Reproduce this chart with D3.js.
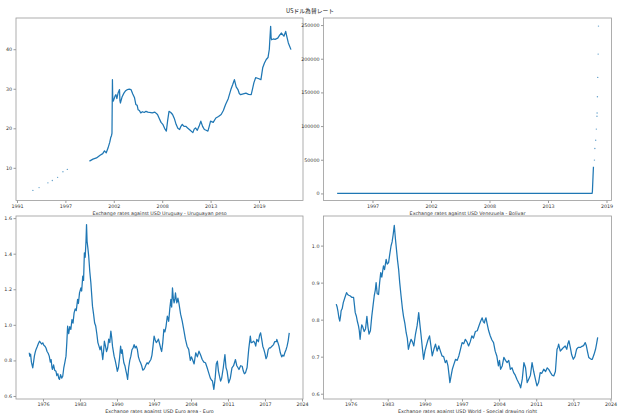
<!DOCTYPE html>
<html>
<head>
<meta charset="utf-8">
<script src="https://cdn.jsdelivr.net/npm/d3@7"></script>
<style>
  body { margin: 0; background: #fff; }
  text { font-family: "DejaVu Sans", sans-serif; }
</style>
</head>
<body>
<div id="chart"></div>
<script>
const width = 620;
const height = 413;

// Values (x = decimal year)
const uruguayDotYears = [1993.7, 1994.4, 1995.4, 1995.9, 1996.5, 1997.1, 1997.6];
const uruguayDotValues = [4.3, 5.0, 6.2, 6.8, 7.6, 9.0, 9.6];
const uruguayYears = [2000.1, 2000.5, 2000.9, 2001.3, 2001.6, 2001.8, 2002.0, 2002.2, 2002.4, 2002.5, 2002.6, 2002.65,
  2002.7, 2002.73, 2002.8, 2002.9, 2003.0, 2003.1, 2003.2, 2003.35, 2003.5, 2003.55, 2003.6, 2003.8, 2004.0, 2004.2,
  2004.4, 2004.6, 2004.8, 2005.0, 2005.2, 2005.35, 2005.5, 2005.6, 2005.75, 2005.9, 2006.1, 2006.3, 2006.5, 2006.7,
  2006.9, 2007.2, 2007.5, 2007.8, 2008.0, 2008.2, 2008.4, 2008.6, 2008.8, 2008.95, 2009.1, 2009.3, 2009.5, 2009.7,
  2009.9, 2010.1, 2010.3, 2010.45, 2010.6, 2010.8, 2011.0, 2011.2, 2011.5, 2011.8, 2011.95, 2012.1, 2012.3, 2012.5,
  2012.7, 2012.9, 2013.1, 2013.3, 2013.5, 2013.65, 2013.8, 2014.1, 2014.4, 2014.7, 2015.0, 2015.25, 2015.5, 2015.8,
  2016.1, 2016.3, 2016.5, 2016.7, 2016.9, 2017.05, 2017.2, 2017.5, 2017.8, 2018.1, 2018.4, 2018.55, 2018.7, 2018.9,
  2019.2, 2019.5, 2019.7, 2019.9, 2020.1, 2020.3, 2020.45, 2020.5, 2020.6, 2020.65, 2020.7, 2020.9, 2021.1, 2021.4,
  2021.6, 2021.8, 2022.1, 2022.3, 2022.45, 2022.6, 2022.9];
const uruguayValues = [11.7, 12.2, 12.5, 13.2, 13.6, 14.3, 13.8, 15.0, 16.5, 17.6, 18.2, 18.8,
  32.3, 28.0, 26.9, 27.5, 28.2, 28.5, 27.5, 29.0, 29.8, 27.0, 26.4, 28.0, 28.9, 29.5,
  29.8, 29.9, 29.8, 28.7, 27.7, 26.0, 25.8, 24.7, 24.5, 23.9, 24.2, 24.0, 24.3, 24.1,
  24.0, 23.9, 24.1, 23.5, 22.5, 21.5, 21.0, 20.0, 19.3, 22.0, 24.3, 24.0, 23.5, 22.5,
  21.0, 20.0, 19.7, 20.5, 21.0, 20.5, 20.5, 20.1, 19.5, 18.9, 19.8, 20.1, 19.5, 20.5,
  21.8, 20.5, 19.7, 19.5, 19.3, 20.5, 21.8, 21.5, 22.6, 23.0, 23.5, 24.5, 26.0, 27.5,
  29.8, 31.0, 32.3, 30.5, 29.8, 28.8, 28.5, 28.7, 28.9, 28.6, 28.5, 30.0, 31.5, 32.8,
  32.6, 32.3, 35.3, 36.5, 37.4, 37.9, 40.0, 42.0, 45.8, 43.0, 42.4, 42.6, 42.5, 42.8,
  43.5, 44.1, 43.3, 44.5, 43.0, 41.6, 39.9];

const venezuelaYears = [1994.07, 1996, 1998, 2000, 2002, 2004, 2006, 2008, 2010, 2012, 2014, 2016, 2017.5,
  2017.93, 2017.96, 2018.02, 2018.06];
const venezuelaValues = [0.15, 0.48, 0.55, 0.68, 1.16, 1.92, 2.15, 2.15, 4.3, 4.3, 6.3, 10, 10,
  10, 2500, 25000, 39500];
const venezuelaDotYears = [2018.15, 2018.19, 2018.27, 2018.33, 2018.39, 2018.4, 2018.43, 2018.46, 2018.5, 2018.53];
const venezuelaDotValues = [49500, 66800, 79000, 95500, 114500, 119500, 143500, 172300, 206900, 248500];

const euroYears = [1974.3, 1974.4, 1974.55, 1974.7, 1974.95, 1975.1, 1975.25, 1975.4, 1975.56, 1975.75, 1976.0, 1976.2,
  1976.4, 1976.6, 1976.8, 1977.0, 1977.2, 1977.4, 1977.6, 1977.8, 1978.0, 1978.2, 1978.35, 1978.5, 1978.6, 1978.8,
  1979.0, 1979.25, 1979.4, 1979.6, 1979.75, 1979.9, 1980.1, 1980.3, 1980.5, 1980.7, 1980.9, 1981.1, 1981.25, 1981.4,
  1981.6, 1981.8, 1982.0, 1982.2, 1982.4, 1982.6, 1982.8, 1983.0, 1983.25, 1983.4, 1983.6, 1983.86, 1984.0, 1984.2,
  1984.35, 1984.5, 1984.65, 1984.8, 1984.9, 1985.0, 1985.15, 1985.3, 1985.5, 1985.7, 1985.85, 1986.0, 1986.2, 1986.4,
  1986.6, 1986.8, 1987.0, 1987.2, 1987.4, 1987.6, 1987.9, 1988.05, 1988.2, 1988.4, 1988.6, 1988.8, 1989.0, 1989.2,
  1989.4, 1989.55, 1989.7, 1990.0, 1990.2, 1990.4, 1990.6, 1990.8, 1991.0, 1991.2, 1991.35, 1991.5, 1991.65, 1991.8,
  1992.0, 1992.2, 1992.35, 1992.5, 1992.7, 1992.9, 1993.1, 1993.3, 1993.5, 1993.7, 1993.9, 1994.1, 1994.3, 1994.5,
  1994.7, 1994.9, 1995.1, 1995.3, 1995.5, 1995.7, 1995.9, 1996.1, 1996.3, 1996.5, 1996.8, 1997.0, 1997.2, 1997.4,
  1997.6, 1997.8, 1998.0, 1998.2, 1998.4, 1998.6, 1998.8, 1999.0, 1999.2, 1999.4, 1999.6, 1999.85, 2000.1, 2000.3,
  2000.5, 2000.65, 2000.8, 2000.95, 2001.1, 2001.25, 2001.35, 2001.5, 2001.6, 2001.8, 2002.0, 2002.3, 2002.6, 2002.9,
  2003.2, 2003.5, 2003.8, 2004.1, 2004.3, 2004.5, 2004.8, 2005.1, 2005.4, 2005.7, 2006.0, 2006.3, 2006.6, 2006.9,
  2007.2, 2007.5, 2007.8, 2008.0, 2008.2, 2008.45, 2008.7, 2008.9, 2009.1, 2009.3, 2009.5, 2009.7, 2009.9, 2010.2,
  2010.5, 2010.7, 2010.9, 2011.2, 2011.5, 2011.8, 2012.1, 2012.45, 2012.7, 2012.9, 2013.1, 2013.4, 2013.7, 2013.9,
  2014.1, 2014.3, 2014.6, 2014.9, 2015.05, 2015.2, 2015.35, 2015.5, 2015.8, 2016.0, 2016.2, 2016.4, 2016.7, 2016.9,
  2017.1, 2017.3, 2017.5, 2017.7, 2017.9, 2018.1, 2018.3, 2018.5, 2018.7, 2018.9, 2019.2, 2019.5, 2019.7, 2020.0,
  2020.1, 2020.3, 2020.5, 2020.75, 2021.0, 2021.2, 2021.4, 2021.6, 2021.8, 2022.0, 2022.2, 2022.4];
const euroValues = [0.843, 0.824, 0.835, 0.790, 0.758, 0.790, 0.824, 0.845, 0.862, 0.875, 0.895, 0.908,
  0.900, 0.892, 0.899, 0.885, 0.880, 0.870, 0.850, 0.840, 0.824, 0.790, 0.805, 0.760, 0.749, 0.775,
  0.745, 0.739, 0.715, 0.725, 0.700, 0.693, 0.720, 0.700, 0.711, 0.760, 0.790, 0.824, 0.900, 0.993,
  0.950, 0.990, 0.974, 1.030, 1.010, 1.067, 1.090, 1.080, 1.143, 1.120, 1.180, 1.208, 1.190, 1.274,
  1.250, 1.404, 1.380, 1.470, 1.564, 1.470, 1.430, 1.386, 1.300, 1.236, 1.170, 1.105, 1.060, 1.010,
  0.993, 0.950, 0.900, 0.880, 0.860, 0.880, 0.805, 0.850, 0.908, 0.880, 0.850, 0.870, 0.920, 0.900,
  0.965, 0.930, 0.880, 0.824, 0.800, 0.770, 0.739, 0.760, 0.810, 0.880, 0.840, 0.860, 0.820, 0.787,
  0.770, 0.740, 0.720, 0.693, 0.760, 0.800, 0.824, 0.860, 0.870, 0.889, 0.870, 0.880, 0.862, 0.820,
  0.800, 0.787, 0.770, 0.745, 0.749, 0.760, 0.775, 0.787, 0.780, 0.790, 0.805, 0.830, 0.880, 0.937,
  0.915, 0.900, 0.908, 0.920, 0.895, 0.870, 0.850, 0.900, 0.974, 0.960, 0.990, 1.049, 1.020, 1.090,
  1.143, 1.100, 1.208, 1.150, 1.124, 1.150, 1.180, 1.140, 1.124, 1.150, 1.120, 1.060, 1.021, 0.970,
  0.918, 0.880, 0.862, 0.800, 0.820, 0.805, 0.780, 0.843, 0.820, 0.852, 0.830, 0.805, 0.790, 0.787,
  0.760, 0.730, 0.700, 0.690, 0.684, 0.637, 0.700, 0.780, 0.796, 0.740, 0.710, 0.684, 0.700, 0.760,
  0.833, 0.760, 0.740, 0.674, 0.700, 0.758, 0.770, 0.805, 0.770, 0.760, 0.749, 0.770, 0.767, 0.740,
  0.725, 0.730, 0.760, 0.862, 0.900, 0.937, 0.900, 0.900, 0.908, 0.900, 0.880, 0.918, 0.905, 0.940,
  0.955, 0.920, 0.880, 0.862, 0.840, 0.810, 0.824, 0.860, 0.870, 0.870, 0.880, 0.889, 0.905, 0.905,
  0.918, 0.900, 0.880, 0.843, 0.820, 0.830, 0.824, 0.845, 0.860, 0.880, 0.910, 0.955];

const sdrYears = [1974.2, 1974.35, 1974.5, 1974.7, 1974.85, 1975.0, 1975.1, 1975.3, 1975.5, 1975.8, 1976.1, 1976.3,
  1976.5, 1976.8, 1977.1, 1977.4, 1977.55, 1977.7, 1977.9, 1978.1, 1978.3, 1978.45, 1978.6, 1978.75, 1978.9, 1979.1,
  1979.35, 1979.6, 1979.85, 1980.05, 1980.25, 1980.5, 1980.75, 1981.0, 1981.2, 1981.4, 1981.55, 1981.75, 1982.0,
  1982.2, 1982.4, 1982.6, 1982.9, 1983.1, 1983.4, 1983.6, 1983.85, 1984.05, 1984.3, 1984.5, 1984.7, 1984.9, 1985.1,
  1985.3, 1985.5, 1985.7, 1985.9, 1986.15, 1986.4, 1986.6, 1986.85, 1987.1, 1987.3, 1987.5, 1987.75, 1988.0, 1988.25,
  1988.5, 1988.8, 1989.1, 1989.25, 1989.4, 1989.6, 1989.85, 1990.1, 1990.3, 1990.55, 1990.8, 1991.1, 1991.4, 1991.65,
  1991.9, 1992.2, 1992.5, 1992.8, 1993.1, 1993.4, 1993.7, 1994.0, 1994.3, 1994.55, 1994.8, 1995.0, 1995.15, 1995.4,
  1995.6, 1995.9, 1996.2, 1996.5, 1996.8, 1997.1, 1997.4, 1997.7, 1998.0, 1998.3, 1998.6, 1998.9, 1999.2, 1999.5,
  1999.85, 2000.2, 2000.5, 2000.8, 2001.1, 2001.3, 2001.5, 2001.65, 2001.8, 2002.0, 2002.3, 2002.6, 2002.9, 2003.2,
  2003.5, 2003.8, 2004.1, 2004.3, 2004.5, 2004.8, 2005.1, 2005.4, 2005.7, 2006.0, 2006.3, 2006.6, 2006.9, 2007.2,
  2007.5, 2007.8, 2008.0, 2008.2, 2008.5, 2008.8, 2009.1, 2009.4, 2009.7, 2010.0, 2010.3, 2010.6, 2010.9, 2011.2,
  2011.5, 2011.8, 2012.1, 2012.45, 2012.8, 2013.1, 2013.4, 2013.7, 2014.0, 2014.3, 2014.6, 2014.9, 2015.05, 2015.2,
  2015.5, 2015.8, 2016.1, 2016.4, 2016.7, 2016.9, 2017.1, 2017.35, 2017.6, 2017.9, 2018.2, 2018.5, 2018.8, 2019.2,
  2019.5, 2019.8, 2020.1, 2020.3, 2020.5, 2020.75, 2021.0, 2021.2, 2021.4, 2021.7, 2022.0, 2022.2, 2022.4];
const sdrValues = [0.842, 0.835, 0.824, 0.805, 0.796, 0.810, 0.824, 0.830, 0.846, 0.860, 0.873, 0.868,
  0.866, 0.864, 0.860, 0.860, 0.840, 0.819, 0.810, 0.795, 0.783, 0.770, 0.747, 0.770, 0.786, 0.780,
  0.768, 0.775, 0.809, 0.780, 0.761, 0.770, 0.809, 0.840, 0.864, 0.880, 0.900, 0.870, 0.868,
  0.900, 0.927, 0.915, 0.945, 0.935, 0.963, 0.950, 0.954, 0.975, 0.999, 1.010, 1.030, 1.055, 1.020,
  0.990, 0.960, 0.936, 0.900, 0.864, 0.830, 0.809, 0.790, 0.764, 0.750, 0.720, 0.735, 0.747, 0.740,
  0.729, 0.760, 0.783, 0.800, 0.819, 0.790, 0.756, 0.720, 0.693, 0.715, 0.729, 0.745, 0.756, 0.730,
  0.702, 0.720, 0.734, 0.715, 0.729, 0.715, 0.702, 0.700, 0.684, 0.690, 0.675, 0.650, 0.630, 0.650,
  0.666, 0.680, 0.693, 0.690, 0.702, 0.720, 0.738, 0.735, 0.747, 0.740, 0.729, 0.740, 0.756, 0.750,
  0.768, 0.770, 0.783, 0.795, 0.805, 0.795, 0.791, 0.800, 0.805, 0.790, 0.770, 0.756, 0.745, 0.738,
  0.715, 0.702, 0.675, 0.690, 0.666, 0.675, 0.698, 0.690, 0.684, 0.690, 0.666, 0.670, 0.657, 0.650,
  0.639, 0.630, 0.625, 0.616, 0.640, 0.684, 0.670, 0.630, 0.640, 0.650, 0.684, 0.660, 0.640, 0.621,
  0.630, 0.657, 0.655, 0.666, 0.660, 0.670, 0.665, 0.657, 0.650, 0.648, 0.660, 0.720, 0.725, 0.734,
  0.715, 0.720, 0.725, 0.729, 0.720, 0.735, 0.743, 0.725, 0.705, 0.693, 0.700, 0.720, 0.725, 0.725,
  0.728, 0.730, 0.738, 0.730, 0.715, 0.698, 0.695, 0.693, 0.693, 0.705, 0.720, 0.735, 0.752];

// Tick positions in days since 1970-01-01, labelled with the year
const topTickDays = [8000, 10000, 12000, 14000, 16000, 18000];
const bottomTickDays = [2500, 5000, 7500, 10000, 12500, 15000, 17500, 20000];
const uruguayTicks = [10, 20, 30, 40];
const venezuelaTicks = [0, 50000, 100000, 150000, 200000, 250000];
const euroTicks = [0.6, 0.8, 1.0, 1.2, 1.4, 1.6];
const sdrTicks = [0.6, 0.7, 0.8, 0.9, 1.0];

const color = "#1f77b4";

const yearToDate = y => {
  const whole = Math.floor(y);
  return new Date(Date.UTC(whole, 0, 1) + (y - whole) * 365.25 * 864e5);
};
const dayToDate = d => new Date(d * 864e5);
const toPoints = (xs, ys) => xs.map((x, i) => [yearToDate(x), ys[i]]);

const panels = [
  { x0: 16, x1: 303, y0: 18, y1: 200.5, xDays: [7959, 19818], yDomain: [1.74, 47.9],
    xTicks: topTickDays, yTicks: uruguayTicks, yFormat: d3.format("d"),
    label: "Exchange rates against USD Uruguay - Uruguayan peso",
    line: toPoints(uruguayYears, uruguayValues), dots: toPoints(uruguayDotYears, uruguayDotValues) },
  { x0: 323.5, x1: 611.5, y0: 18, y1: 200.5, xDays: [8325, 18171], yDomain: [-10500, 260500],
    xTicks: topTickDays.slice(1), yTicks: venezuelaTicks, yFormat: d3.format("d"),
    label: "Exchange rates against USD Venezuela - Bolivar",
    line: toPoints(venezuelaYears, venezuelaValues), dots: toPoints(venezuelaDotYears, venezuelaDotValues) },
  { x0: 16, x1: 303, y0: 216, y1: 399, xDays: [676, 20068], yDomain: [0.583, 1.612],
    xTicks: bottomTickDays, yTicks: euroTicks, yFormat: d3.format(".1f"),
    label: "Exchange rates against USD Euro area - Euro",
    line: toPoints(euroYears, euroValues), dots: [] },
  { x0: 323.5, x1: 611.5, y0: 216, y1: 399, xDays: [676, 20068], yDomain: [0.5857, 1.080],
    xTicks: bottomTickDays, yTicks: sdrTicks, yFormat: d3.format(".1f"),
    label: "Exchange rates against USD World - Special drawing right",
    line: toPoints(sdrYears, sdrValues), dots: [] }
];

const svg = d3.select("#chart").append("svg").attr("width", width).attr("height", height);

svg.append("text")
  .attr("x", 310).attr("y", 12.5)
  .attr("text-anchor", "middle")
  .style("font-family", "'Noto Sans CJK JP', sans-serif")
  .style("font-size", "5.8px")
  .attr("fill", "#222")
  .text("USドル為替レート");

panels.forEach(p => {
  const x = d3.scaleUtc().domain(p.xDays.map(dayToDate)).range([p.x0, p.x1]);
  const y = d3.scaleLinear().domain(p.yDomain).range([p.y1, p.y0]);
  const g = svg.append("g");

  // Data
  g.append("path")
    .datum(p.line)
    .attr("d", d3.line().x(d => x(d[0])).y(d => y(d[1])))
    .attr("fill", "none")
    .attr("stroke", color)
    .attr("stroke-width", 1.25)
    .attr("stroke-linejoin", "round");

  g.selectAll("circle").data(p.dots).join("circle")
    .attr("cx", d => x(d[0])).attr("cy", d => y(d[1]))
    .attr("r", 0.7)
    .attr("fill", color)
    .attr("opacity", 0.7);

  // Axes
  const xAxis = g.append("g").attr("transform", `translate(0,${p.y1})`)
    .call(d3.axisBottom(x).tickValues(p.xTicks.map(dayToDate)).tickFormat(d3.utcFormat("%Y")).tickSize(2.5).tickPadding(1.5));
  const yAxis = g.append("g").attr("transform", `translate(${p.x0},0)`)
    .call(d3.axisLeft(y).tickValues(p.yTicks).tickFormat(p.yFormat).tickSize(2.5).tickPadding(1.5));

  [xAxis, yAxis].forEach(a => {
    a.select(".domain").remove();
    a.selectAll("line").attr("stroke", "#555").attr("stroke-width", 0.6);
    a.selectAll("text").style("font-size", "4.8px").attr("fill", "#333");
  });

  // Frame
  g.append("rect")
    .attr("x", p.x0).attr("y", p.y0)
    .attr("width", p.x1 - p.x0).attr("height", p.y1 - p.y0)
    .attr("fill", "none")
    .attr("stroke", "#999")
    .attr("stroke-width", 0.8);

  g.append("text")
    .attr("x", (p.x0 + p.x1) / 2).attr("y", p.y1 + 14)
    .attr("text-anchor", "middle")
    .style("font-size", "4.8px")
    .attr("fill", "#333")
    .text(p.label);
});
</script>
</body>
</html>
